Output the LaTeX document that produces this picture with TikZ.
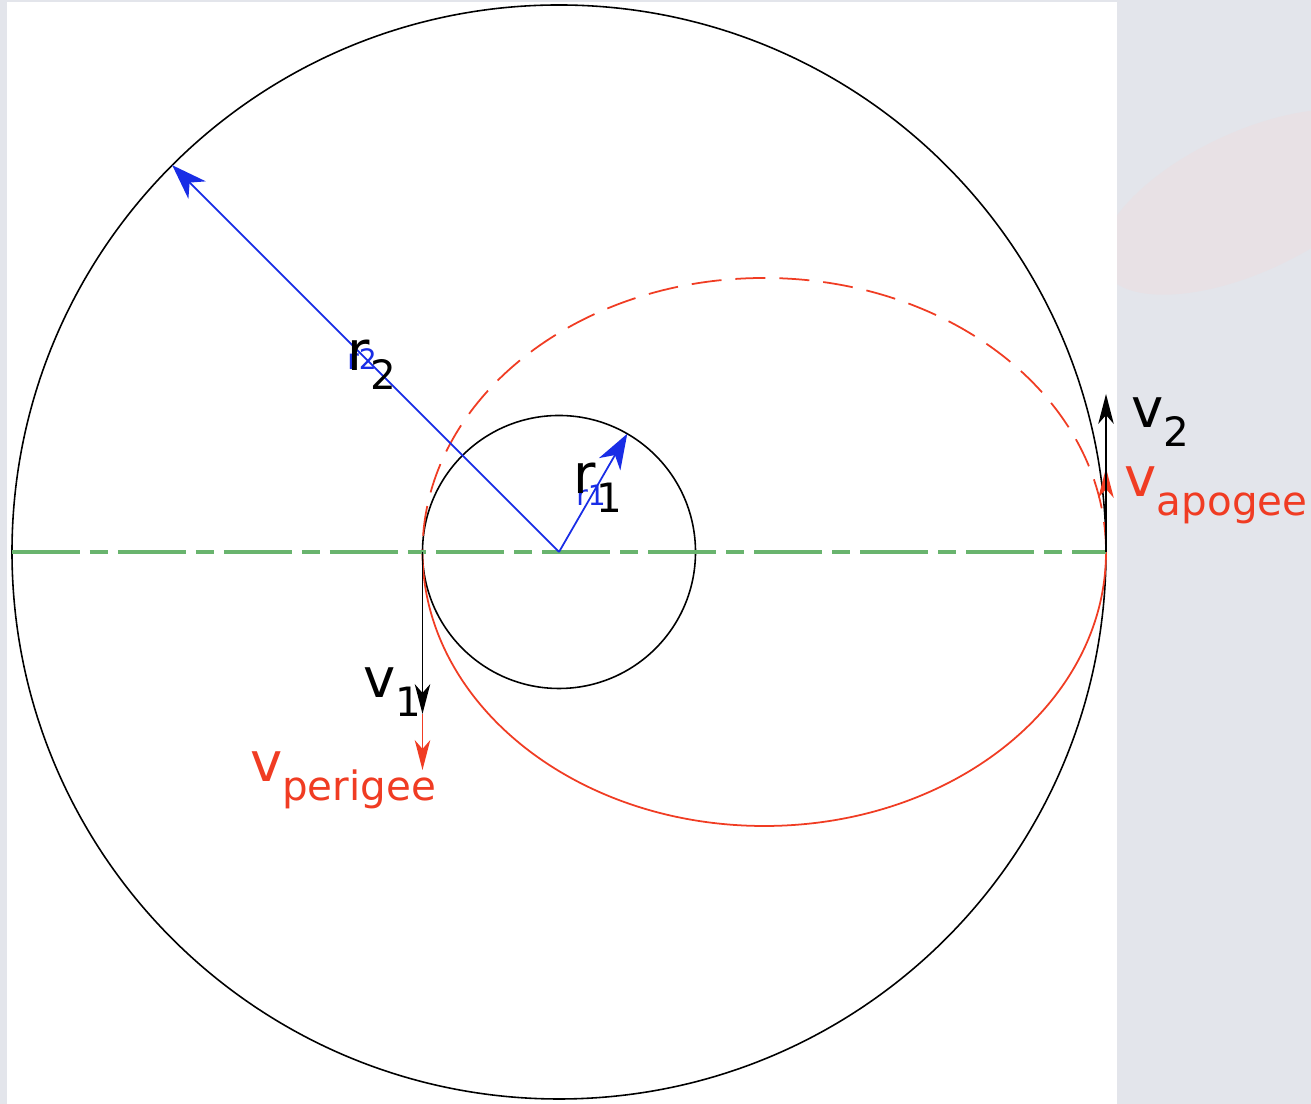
\documentclass[tikz,border=0pt]{standalone}
\usepackage{fontspec}
\setmainfont{DejaVu Sans}
\usetikzlibrary{arrows.meta}
\definecolor{bgGray}{RGB}{227,229,235}
\definecolor{blobPink}{RGB}{232,225,229}
\definecolor{orbitRed}{RGB}{240,60,35}
\definecolor{radBlue}{RGB}{25,45,230}
\definecolor{axisGreen}{RGB}{105,180,110}
\newcommand{\orbitlbl}[2]{{\fontsize{15.5}{18}\selectfont #1}{\fontsize{11.5}{14}\selectfont\raisebox{-5.5pt}{#2}}}
\tikzset{
  orbit/.style={black, line width=0.45pt},
  transfer/.style={orbitRed, line width=0.5pt},
  axisline/.style={axisGreen, line width=0.9pt, dash pattern=on 0.68cm off 0.1cm on 0.18cm off 0.1cm},
  radius/.style={radBlue, line width=0.5pt, -{Stealth[length=10pt,width=7pt,inset=3pt]}},
  velocity/.style={line width=0.5pt, -{Stealth[length=8.5pt,width=4.4pt,inset=2.5pt]}},
  tinylbl/.style={radBlue, font=\fontsize{8}{9}\selectfont, inner sep=0pt}
}
\begin{document}
\begin{tikzpicture}
  % background
  \fill[bgGray] (-5.59,-5.52) rectangle (7.52,5.52);
  \begin{scope}
    \clip (5.58,-5.52) rectangle (7.52,5.52);
    \fill[blobPink, rotate around={25:(6.9,3.5)}] (6.9,3.5) ellipse (1.6cm and 0.7cm);
  \end{scope}
  \fill[white] (-5.52,-5.52) rectangle (5.58,5.50);
  \useasboundingbox (-5.59,-5.52) rectangle (7.52,5.52);

  \coordinate (O) at (0,0);
  \coordinate (P) at (-1.365,0);
  \coordinate (A) at (5.47,0);
  \coordinate (L) at (-5.47,0);
  \coordinate (R2) at (135:5.47);
  \coordinate (R1) at (60:1.365);
  \coordinate (V1) at (-1.365,-1.62);
  \coordinate (VP) at (-1.365,-2.18);
  \coordinate (V2) at (5.47,1.58);
  \coordinate (VA) at (5.47,0.84);

  % orbits
  \draw[orbit] (O) circle (5.47);
  \draw[orbit] (O) circle (1.365);
  \draw[transfer, dash pattern=on 0.3cm off 0.14cm] (A) arc[start angle=0, end angle=180, x radius=3.4175, y radius=2.74];
  \draw[transfer] (P) arc[start angle=180, end angle=360, x radius=3.4175, y radius=2.74];
  \draw[axisline] (L) -- (A);

  % radii
  \draw[radius] (O) -- (R2);
  \draw[radius] (O) -- (R1);
  \node[tinylbl] (r2small) at (-1.97,1.93) {r2};
  \node[tinylbl] (r1small) at (0.32,0.57) {r1};
  \node[inner sep=0pt] (r2lbl) at (-1.87,1.87) {\orbitlbl{r}{2}};
  \node[inner sep=0pt] (r1lbl) at (0.39,0.64) {\orbitlbl{r}{1}};

  % velocities
  \draw[velocity, orbitRed] (V1) -- (VP);
  \draw[velocity, black] (P) -- (V1);
  \draw[velocity, orbitRed] (A) -- (VA);
  \draw[velocity, black] (A) -- (V2);
  \node[inner sep=0pt] (v1lbl) at (-1.67,-1.40) {\orbitlbl{v}{1}};
  \node[inner sep=0pt, orbitRed] (vplbl) at (-2.16,-2.28) {\orbitlbl{v}{perigee}};
  \node[inner sep=0pt] (v2lbl) at (6.01,1.30) {\orbitlbl{v}{2}};
  \node[inner sep=0pt, orbitRed] (valbl) at (6.57,0.57) {\orbitlbl{v}{apogee}};
\end{tikzpicture}
\end{document}
